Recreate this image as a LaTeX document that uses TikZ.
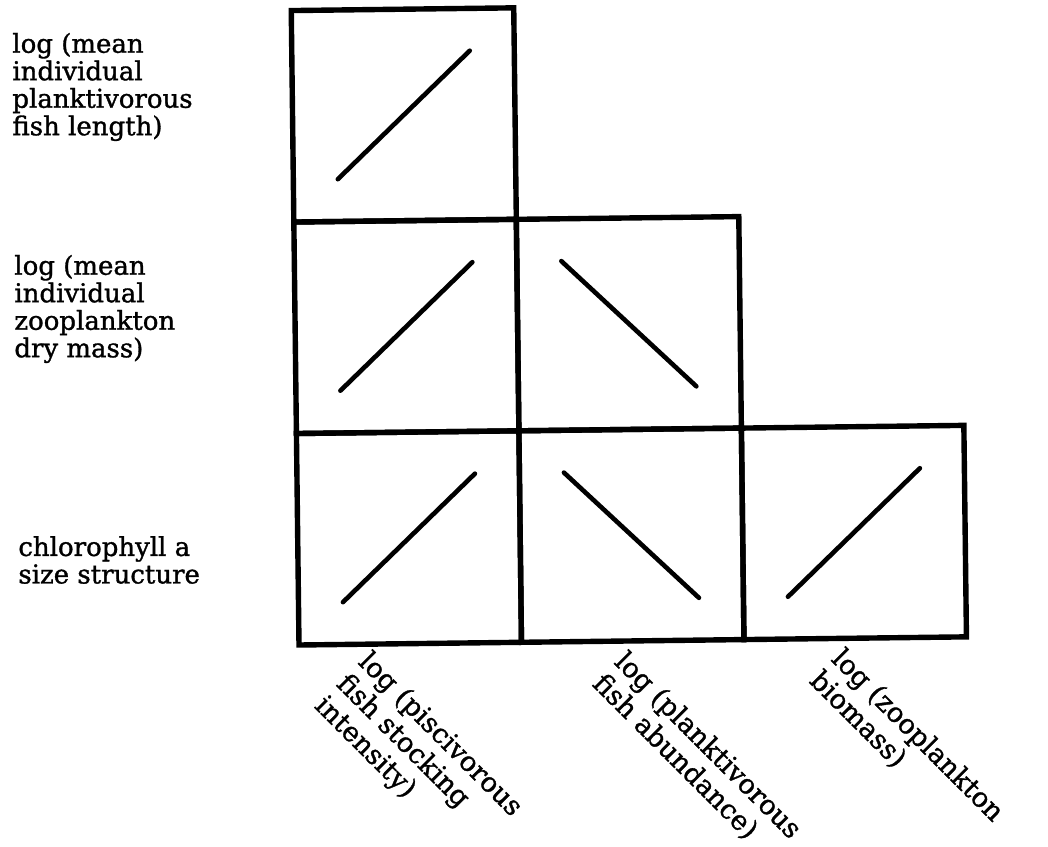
\documentclass[tikz,border=0pt]{standalone}
\usepackage{fontspec}
\setmainfont{DejaVu Serif}
\newfontface\labfont{DejaVu Serif}[FakeBold=1.2]
\usetikzlibrary{calc}
\begin{document}
\begin{tikzpicture}[x=0.5pt,y=-0.5pt,
  cell/.style={draw, line width=2.7pt, minimum width=111.25pt, minimum height=105.75pt, inner sep=0pt, outer sep=0pt, anchor=south west},
  slope/.style={line width=2.3pt, line cap=round},
  lab/.style={font=\labfont\fontsize{13}{13.75}\selectfont, align=left, inner sep=0pt},
  axlab/.style={font=\labfont\fontsize{13.6}{15.5}\selectfont, align=left, inner sep=0pt, rotate=-45, anchor=north west}]
\useasboundingbox[fill=white] (0,0) rectangle (1048,846);
\begin{scope}[shift={(299,645)}, rotate=0.7, transform shape]
  \node[cell] (c20) at (0,0) {};
  \node[cell] (c21) at (222.5,0) {};
  \node[cell] (c22) at (445,0) {};
  \node[cell] (c10) at (0,-211.5) {};
  \node[cell] (c11) at (222.5,-211.5) {};
  \node[cell] (c00) at (0,-423) {};
\end{scope}
\foreach \c in {c00,c10,c20,c22}{
  \draw[slope] ($(\c.south west)!0.2!(\c.north east)$) -- ($(\c.south west)!0.8!(\c.north east)$);
}
\foreach \c in {c11,c21}{
  \draw[slope] ($(\c.north west)!0.2!(\c.south east)$) -- ($(\c.north west)!0.8!(\c.south east)$);
}
\node[lab, anchor=west] (ylab1) at (12,87) {log (mean\\individual\\planktivorous\\fish length)};
\node[lab, anchor=west] (ylab2) at (14,309) {log (mean\\individual\\zooplankton\\dry mass)};
\node[lab, anchor=west] (ylab3) at (18,560) {chlorophyll a\\size structure};
\node[axlab] (xlab1) at (372,648) {log (piscivorous\\fish stocking\\intensity)};
\node[axlab] (xlab2) at (628,648) {log (planktivorous\\fish abundance)};
\node[axlab] (xlab3) at (845,645) {log (zooplankton\\biomass)};
\end{tikzpicture}
\end{document}
